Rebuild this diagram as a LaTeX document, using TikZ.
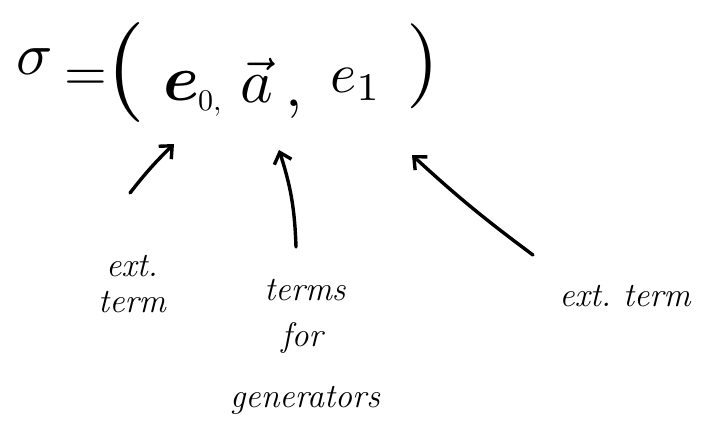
\documentclass[tikz,border=0pt]{standalone}
\usepackage{fontspec}
\usepackage{graphicx}
\usepackage{amsmath,amssymb,bm}
\usetikzlibrary{arrows.meta}
\begin{document}
\begin{tikzpicture}[x=1pt,y=-1pt,
  big/.style={inner sep=0pt},
  lbl/.style={inner sep=0pt,font=\fontsize{34}{36}\selectfont\itshape},
  arr/.style={line width=3.4pt,line cap=round,-{Straight Barb[length=10pt,width=18pt]}}]
\useasboundingbox (0,0) rectangle (723,439);
% formula
\node[big] (sig) at (35,62) {\scalebox{6}{$\sigma$}};
\node[big] (eq) at (86,80) {\scalebox{5.5}{$=$}};
\node[big] (lp) at (126,72) {\scalebox{10}{$($}};
\node[big,anchor=base west] (e0) at (163,100) {\scalebox{6.5}{$\bm{e}$}};
\node[big,anchor=base west] (z0) at (198,110) {\scalebox{3}{$0,$}};
\node[big,anchor=base west] (a) at (240,102) {\scalebox{6.2}{$\vec{a}$}};
\node[big,anchor=base] (cm) at (294,106) {\scalebox{6.2}{$,$}};
\node[big,anchor=base west] (e1) at (330,92) {\scalebox{5.6}{$e_{1}$}};
\node[big] (rp) at (423,66) {\scalebox{8.5}{$)$}};
% arrows
\coordinate (s1) at (130,193); \coordinate (t1) at (174,144);
\coordinate (s2) at (296,247); \coordinate (t2) at (279,150);
\coordinate (s3) at (533,255); \coordinate (t3) at (412,155);
\draw[arr] (s1) to[bend left=4] (t1);
\draw[arr] (s2) to[bend right=8] (t2);
\draw[arr] (s3) to[bend left=3] (t3);
% labels
\node[lbl,align=center] (l1) at (132,284) {ext.\\term};
\node[lbl] (l2a) at (305,290) {terms};
\node[lbl] (l2b) at (302,338) {for};
\node[lbl] (l2c) at (305,400) {generators};
\node[lbl] (l3) at (625,296) {ext.\ term};
\end{tikzpicture}
\end{document}
